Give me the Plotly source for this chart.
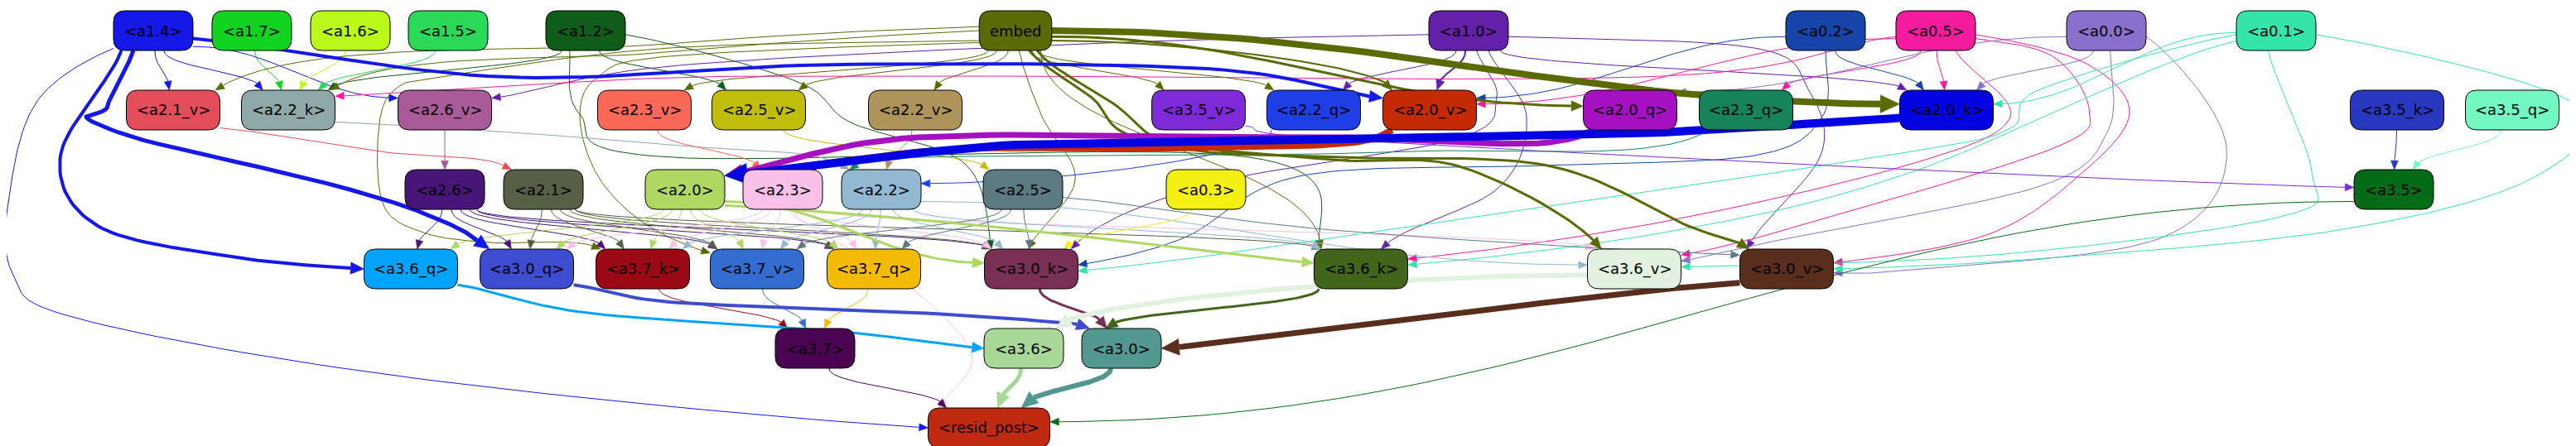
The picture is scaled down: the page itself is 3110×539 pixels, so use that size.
import numpy as np
import plotly.graph_objects as go

# ---- data: node labels and weighted edges (source, target, penwidth) ----
labels = ["<a1.4>", "<a1.7>", "<a1.6>", "<a1.5>", "<a1.2>", "embed", "<a1.0>", "<a0.2>", "<a0.5>",
          "<a0.0>", "<a0.1>",
          "<a2.1_v>", "<a2.2_k>", "<a2.6_v>", "<a2.3_v>", "<a2.5_v>", "<a2.2_v>", "<a3.5_v>",
          "<a2.2_q>", "<a2.0_v>", "<a2.0_q>", "<a2.3_q>", "<a2.0_k>", "<a3.5_k>", "<a3.5_q>",
          "<a2.6>", "<a2.1>", "<a2.0>", "<a2.3>", "<a2.2>", "<a2.5>", "<a0.3>", "<a3.5>",
          "<a3.6_q>", "<a3.0_q>", "<a3.7_k>", "<a3.7_v>", "<a3.7_q>", "<a3.0_k>", "<a3.6_k>",
          "<a3.6_v>", "<a3.0_v>",
          "<a3.7>", "<a3.6>", "<a3.0>", "<resid_post>"]

edge_src = []
edge_dst = []
edge_pw = []


def add(src, targets, pw=1):
    for t in targets:
        edge_src.append(src)
        edge_dst.append(t)
        edge_pw.append(pw)


add("<a1.4>", ["<a2.1_v>", "<a2.2_k>", "<a2.6_v>", "<resid_post>"])
add("<a1.4>", ["<a2.0_v>", "<a3.6_q>"], 4)
add("<a1.4>", ["<a3.0_q>"], 5)
add("<a1.7>", ["<a2.2_k>"])
add("<a1.6>", ["<a2.2_k>"])
add("<a1.5>", ["<a2.2_k>"])
add("<a1.2>", ["<a2.2_k>", "<a2.5_v>", "<a3.0_k>", "<a3.6_k>"])
add("embed", ["<a2.1_v>", "<a2.2_k>", "<a2.3_v>", "<a2.5_v>", "<a2.2_v>", "<a3.5_v>", "<a2.2_q>",
              "<a3.7_k>", "<a3.7_v>", "<a3.0_k>", "<a3.6_k>"])
add("embed", ["<a2.0_v>"], 2)
add("embed", ["<a2.0_q>", "<a3.6_v>", "<a3.0_v>"], 3)
add("embed", ["<a2.0_k>"], 8)
add("<a1.0>", ["<a2.2_q>", "<a2.6_v>", "<a2.0_k>", "<a3.0_v>", "<a3.6_k>", "<a3.0_k>"])
add("<a1.0>", ["<a2.0_v>"], 2)
add("<a0.2>", ["<a2.0_v>", "<a2.0_k>", "<a3.0_k>"])
add("<a0.5>", ["<a2.2_k>", "<a2.0_v>", "<a2.3_q>", "<a2.0_k>", "<a3.6_k>", "<a3.6_v>", "<a3.0_v>"])
add("<a0.0>", ["<a2.0_q>", "<a2.0_k>", "<a3.6_v>", "<a3.0_v>"])
add("<a0.1>", ["<a2.0_k>", "<a3.6_k>", "<a3.0_k>", "<a3.0_v>", "<a3.6_v>"])
add("<a2.1_v>", ["<a2.1>"])
add("<a2.2_k>", ["<a2.2>"])
add("<a2.6_v>", ["<a2.6>"])
add("<a2.3_v>", ["<a2.3>"])
add("<a2.5_v>", ["<a2.5>"])
add("<a2.2_v>", ["<a2.2>"])
add("<a3.5_v>", ["<a3.5>"])
add("<a2.2_q>", ["<a2.2>"])
add("<a2.0_v>", ["<a2.0>"], 8)
add("<a2.0_q>", ["<a2.0>"], 7)
add("<a2.0_k>", ["<a2.0>"], 10)
add("<a2.3_q>", ["<a2.2>"])
add("<a3.5_k>", ["<a3.5>"])
add("<a3.5_q>", ["<a3.5>"])
add("<a2.6>", ["<a3.6_q>", "<a3.0_q>", "<a3.7_k>", "<a3.7_v>", "<a3.7_q>", "<a3.0_k>"])
add("<a2.1>", ["<a3.0_q>", "<a3.7_k>", "<a3.7_v>", "<a3.7_q>", "<a3.0_k>", "<a3.6_k>"])
add("<a2.0>", ["<a3.6_q>", "<a3.0_q>", "<a3.7_k>", "<a3.7_v>", "<a3.7_q>"])
add("<a2.0>", ["<a3.0_k>", "<a3.6_k>"], 3)
add("<a2.3>", ["<a3.0_q>", "<a3.7_k>", "<a3.7_v>", "<a3.7_q>", "<a3.0_k>", "<a3.6_v>", "<resid_post>"])
add("<a2.2>", ["<a3.7_k>", "<a3.7_v>", "<a3.7_q>", "<a3.0_k>", "<a3.6_v>", "<a3.6_k>"])
add("<a2.5>", ["<a3.7_v>", "<a3.7_q>", "<a3.0_k>", "<a3.0_v>"])
add("<a0.3>", ["<a3.0_k>"])
add("<a3.5>", ["<resid_post>"])
add("<a3.6_q>", ["<a3.6>"], 3)
add("<a3.0_q>", ["<a3.0>"], 4)
add("<a3.7_k>", ["<a3.7>"])
add("<a3.7_v>", ["<a3.7>"])
add("<a3.7_q>", ["<a3.7>"])
add("<a3.0_k>", ["<a3.0>"], 3)
add("<a3.6_k>", ["<a3.0>"], 3)
add("<a3.6_v>", ["<a3.6>"], 6)
add("<a3.0_v>", ["<a3.0>"], 7)
add("<a3.7>", ["<resid_post>"])
add("<a3.6>", ["<resid_post>"], 5)
add("<a3.0>", ["<resid_post>"], 6)

# ---- layout (pixel positions of node centres) ----
R1, R2, R3, R4, R5, R6 = 29, 125, 221, 317, 413, 509
POS = {
    "<a1.4>": (177, R1), "<a1.7>": (296, R1), "<a1.6>": (415, R1), "<a1.5>": (533, R1),
    "<a1.2>": (699, R1), "embed": (1218, R1), "<a1.0>": (1765, R1), "<a0.2>": (2196, R1),
    "<a0.5>": (2329, R1), "<a0.0>": (2535, R1), "<a0.1>": (2740, R1),
    "<a2.1_v>": (201, R2), "<a2.2_k>": (340, R2), "<a2.6_v>": (529, R2), "<a2.3_v>": (770, R2),
    "<a2.5_v>": (908, R2), "<a2.2_v>": (1097, R2), "<a3.5_v>": (1439, R2), "<a2.2_q>": (1578, R2),
    "<a2.0_v>": (1718, R2), "<a2.0_q>": (1960, R2), "<a2.3_q>": (2100, R2), "<a2.0_k>": (2342, R2),
    "<a3.5_k>": (2886, R2), "<a3.5_q>": (3025, R2),
    "<a2.6>": (529, R3), "<a2.1>": (648, R3), "<a2.0>": (819, R3), "<a2.3>": (937, R3),
    "<a2.2>": (1056, R3), "<a2.5>": (1227, R3), "<a0.3>": (1448, R3), "<a3.5>": (2882, R3),
    "<a3.6_q>": (488, R4), "<a3.0_q>": (628, R4), "<a3.7_k>": (768, R4), "<a3.7_v>": (906, R4),
    "<a3.7_q>": (1047, R4), "<a3.0_k>": (1237, R4), "<a3.6_k>": (1635, R4), "<a3.6_v>": (1965, R4),
    "<a3.0_v>": (2149, R4),
    "<a3.7>": (976, R5), "<a3.6>": (1228, R5), "<a3.0>": (1346, R5),
    "<resid_post>": (1186, R6),
}

FILL = {
    "<a1.4>": "#1419e8", "<a1.7>": "#12d320", "<a1.6>": "#b9f81a", "<a1.5>": "#29d957",
    "<a1.2>": "#0f5d18", "embed": "#5a6b05", "<a1.0>": "#6420a8", "<a0.2>": "#1545a8",
    "<a0.5>": "#f51b9e", "<a0.0>": "#8870cc", "<a0.1>": "#35e4a8",
    "<a2.1_v>": "#e34d59", "<a2.2_k>": "#8fa8a8", "<a2.6_v>": "#a85b98", "<a2.3_v>": "#fa6858",
    "<a2.5_v>": "#c0be0a", "<a2.2_v>": "#ae935b", "<a3.5_v>": "#7e2ad8", "<a2.2_q>": "#1e3ee6",
    "<a2.0_v>": "#c42b05", "<a2.0_q>": "#a510c0", "<a2.3_q>": "#16835a", "<a2.0_k>": "#0404e2",
    "<a3.5_k>": "#2838c0", "<a3.5_q>": "#72f8c0",
    "<a2.6>": "#481678", "<a2.1>": "#556045", "<a2.0>": "#aed862", "<a2.3>": "#f9c0ea",
    "<a2.2>": "#92b8d2", "<a2.5>": "#5c7a82", "<a0.3>": "#f4f013", "<a3.5>": "#066b16",
    "<a3.6_q>": "#02a3fb", "<a3.0_q>": "#3e4ccf", "<a3.7_k>": "#9b0a14", "<a3.7_v>": "#336dd0",
    "<a3.7_q>": "#f3bb05", "<a3.0_k>": "#7a3055", "<a3.6_k>": "#41661a", "<a3.6_v>": "#e3f1e0",
    "<a3.0_v>": "#5a2e1d",
    "<a3.7>": "#4a0452", "<a3.6>": "#a8d898", "<a3.0>": "#539890", "<resid_post>": "#c02a10",
}

# hand routing for the long spline edges: source port, target port, waypoints
ROUTE = {
    ("<a1.4>", "<a2.0_v>"): dict(s=(1, 0.4), t=(-1, -0.6), via=[(600, 85), (1000, 70), (1450, 75)]),
    ("<a1.4>", "<a3.6_q>"): dict(s=(-0.8, 1), t=(-1, 0), via=[(65, 180), (110, 265), (270, 302)]),
    ("<a1.4>", "<a3.0_q>"): dict(s=(-0.5, 1), t=(-0.8, -1), via=[(122, 120), (135, 152)]),
    ("<a1.4>", "<resid_post>"): dict(s=(-1, 0.9), t=(-1, 0),
                                     via=[(40, 110), (6, 210), (6, 320), (90, 378), (500, 450)]),
    ("<a1.4>", "<a2.6_v>"): dict(s=(1, 0.8), t=(-1, -0.6), via=[]),
    ("<a1.2>", "<a3.0_k>"): dict(s=(1, 0.2), via=[(953, 90), (1019, 140), (1157, 190)]),
    ("<a1.2>", "<a3.6_k>"): dict(s=(-0.4, 1), via=[(692, 130), (800, 182), (1500, 182)]),
    ("<a1.0>", "<a2.6_v>"): dict(s=(-1, 0.2), t=(1, -0.6), via=[(1300, 45), (800, 72)]),
    ("<a1.0>", "<a3.0_v>"): dict(s=(1, 0.3), via=[(2110, 50), (2175, 100), (2190, 180)]),
    ("<a1.0>", "<a3.6_k>"): dict(s=(0.5, 1), via=[(1835, 133), (1800, 220)]),
    ("<a1.0>", "<a3.0_k>"): dict(s=(0.2, 1), via=[(1799, 110), (1750, 160), (1450, 215)]),
    ("<a0.2>", "<a3.0_k>"): dict(s=(0, 1), t=(1, -0.2),
                                 via=[(2192, 133), (2110, 180), (1850, 192), (1560, 205), (1420, 280)]),
    ("<a0.2>", "<a2.0_v>"): dict(s=(-1, 0.3), t=(1, -0.6)),
    ("<a0.5>", "<a2.2_k>"): dict(s=(-1, 0.3), t=(1, -0.7), via=[(2000, 84), (1200, 84), (800, 86)]),
    ("<a0.5>", "<a2.0_v>"): dict(s=(-1, 0.4), t=(1, -0.3)),
    ("<a0.5>", "<a3.0_v>"): dict(s=(1, 0.2), t=(1, -0.3),
                                 via=[(2507, 67), (2563, 127), (2507, 200), (2393, 275)]),
    ("<a0.5>", "<a3.6_v>"): dict(s=(1, 0.4), t=(1, -0.7),
                                 via=[(2470, 60), (2514, 123), (2481, 167), (2250, 240)]),
    ("<a0.5>", "<a3.6_k>"): dict(s=(0.5, 1), t=(1, -0.5), via=[(2419, 133), (2300, 190), (2000, 260)]),
    ("<a0.0>", "<a3.0_v>"): dict(s=(1, 0.3), t=(1, 0.2), via=[(2680, 170), (2600, 280), (2300, 318)]),
    ("<a0.0>", "<a3.6_v>"): dict(s=(0.1, 1), t=(1, -0.4), via=[(2537, 150), (2455, 217), (2150, 280)]),
    ("<a0.0>", "<a2.0_q>"): dict(s=(-1, 0.3), t=(1, -0.9)),
    ("<a0.1>", "<a3.0_v>"): dict(s=(1, 0.2), t=(1, 0),
                                 via=[(3100, 117), (3050, 207), (2816, 270), (2450, 305)]),
    ("<a0.1>", "<a3.6_k>"): dict(s=(-1, 0.5), t=(1, -0.2), via=[(2300, 200), (2018, 270)]),
    ("<a0.1>", "<a3.0_k>"): dict(s=(-1, 0.2), t=(1, 0.1),
                                 via=[(2455, 100), (2419, 147), (2300, 175), (1800, 250)]),
    ("<a0.1>", "<a3.6_v>"): dict(s=(-0.2, 1), t=(1, -0.1), via=[(2783, 200), (2749, 253), (2400, 300)]),
    ("<a0.1>", "<a2.0_k>"): dict(s=(-1, 0.1), t=(1, -0.3)),
    ("<a2.0_k>", "<a2.0>"): dict(s=(-1, 0.4), t=(1, -0.7), via=[(2000, 152), (1600, 160), (1200, 168)]),
    ("<a2.0_q>", "<a2.0>"): dict(s=(-0.8, 1), t=(1, -0.7), via=[(1600, 158), (1100, 158)]),
    ("<a2.0_v>", "<a2.0>"): dict(s=(-0.8, 1), t=(1, -0.7), via=[(1500, 170), (1150, 172)]),
    ("<a2.3_q>", "<a2.2>"): dict(s=(-0.8, 1), t=(-0.8, -1), via=[(1700, 175), (1300, 180), (1080, 183)]),
    ("<a2.2_k>", "<a2.2>"): dict(s=(1, 0.6), t=(-0.8, -1), via=[(800, 167)]),
    ("<a2.2_q>", "<a2.2>"): dict(s=(-0.9, 1), t=(1, -0.3)),
    ("<a2.1_v>", "<a2.1>"): dict(s=(1, 0.9), t=(-0.8, -1), via=[(450, 175)]),
    ("<a3.5_v>", "<a3.5>"): dict(s=(1, 0.8), t=(-1, -0.1), via=[(1600, 160), (2300, 197)]),
    ("<a2.3>", "<resid_post>"): dict(s=(0.2, 1), via=[(1080, 330), (1165, 420)]),
    ("<a2.0>", "<a3.0_k>"): dict(s=(1, 0.6), t=(-1, -0.3)),
    ("<a2.0>", "<a3.6_k>"): dict(s=(1, 0.8), t=(-1, -0.3), via=[(1150, 262), (1450, 295)]),
    ("<a2.2>", "<a3.6_v>"): dict(s=(1, 0.6), t=(-1, -0.2)),
    ("<a2.5>", "<a3.0_v>"): dict(s=(1, 0.4), t=(-1, -0.7), via=[(1600, 270)]),
    ("<a3.5>", "<resid_post>"): dict(s=(-1, 0.6), t=(1, -0.3)),
    ("<a3.6_q>", "<a3.6>"): dict(s=(1, 0.8), t=(-1, 0), via=[(700, 370), (1000, 392)]),
    ("<a3.0_q>", "<a3.0>"): dict(s=(1, 0.8), t=(-0.8, -1), via=[(800, 357), (1065, 368), (1250, 380)]),
    ("<a3.6_v>", "<a3.6>"): dict(s=(-1, 0.3), t=(0.8, -1)),
    ("<a3.0_v>", "<a3.0>"): dict(s=(-1, 0.7), t=(1, 0), via=[(1906, 352), (1600, 390)]),
    ("<a3.6_k>", "<a3.0>"): dict(s=(-0.9, 1), t=(-0.4, -1)),
    ("embed", "<a2.0_k>"): dict(s=(1, 0), t=(-1, -0.3)),
    ("embed", "<a2.0_q>"): dict(s=(1, 0.3), t=(-1, -0.2)),
    ("embed", "<a2.0_v>"): dict(s=(1, 0.5), t=(-0.8, -1)),
    ("embed", "<a3.6_v>"): dict(s=(0.4, 1), t=(-0.7, -1),
                                via=[(1310, 110), (1370, 160), (1600, 185), (1760, 195)]),
    ("embed", "<a3.0_v>"): dict(s=(0.6, 1), t=(-0.8, -1),
                                via=[(1336, 117), (1415, 170), (1600, 182), (1860, 192), (2030, 265)]),
    ("embed", "<a3.0_k>"): dict(s=(0.1, 1), via=[(1250, 133), (1290, 210)]),
    ("embed", "<a3.7_k>"): dict(s=(-1, 0.5), t=(-0.9, -1),
                                via=[(800, 50), (536, 83), (469, 100), (449, 150), (455, 240),
                                     (503, 273), (580, 285)]),
    ("embed", "<a3.7_v>"): dict(s=(-1, 0.6), t=(-1, -0.8),
                                via=[(800, 60), (714, 85), (692, 133), (714, 205), (770, 262)]),
    ("embed", "<a2.1_v>"): dict(s=(-1, -0.2), t=(0.9, -1), via=[(800, 45)]),
    ("embed", "<a2.2_k>"): dict(s=(-1, 0), t=(0.9, -1), via=[(800, 55)]),
}

NODE_H = 48


def node_w(name):
    return 8.5 * len(name) + 45


def port(name, f):
    cx, cy = POS[name]
    fx, fy = f
    p = np.array([cx + fx * node_w(name) / 2, cy + fy * NODE_H / 2])
    if abs(fx) >= 1 and abs(fy) < 1:
        n = np.array([np.sign(fx), 0.0])
    else:
        n = np.array([0.0, np.sign(fy)])
    return p, n


def catmull(pts):
    out = []
    for i in range(1, len(pts) - 2):
        p0, p1, p2, p3 = pts[i - 1:i + 3]
        for t in np.linspace(0, 1, 20, endpoint=False):
            t2, t3 = t * t, t * t * t
            out.append(0.5 * (2 * p1 + (-p0 + p2) * t + (2 * p0 - 5 * p1 + 4 * p2 - p3) * t2
                              + (-p0 + 3 * p1 - 3 * p2 + p3) * t3))
    out.append(pts[-2])
    return np.array(out)


def edge_curve(src, dst):
    r = ROUTE.get((src, dst), {})
    sx, sy = POS[src]
    tx, ty = POS[dst]
    fs = r.get("s", (float(np.clip((tx - sx) / 600, -0.8, 0.8)), 1))
    ft = r.get("t", (float(np.clip((sx - tx) / 300, -0.85, 0.85)), -1))
    p0, n0 = port(src, fs)
    p3, n3 = port(dst, ft)
    via = [np.array(v, float) for v in r.get("via", [])]
    if via:
        pts = [p0] + via + [p3]
        s0 = 0.6 * np.linalg.norm(pts[1] - p0)
        s3 = 0.6 * np.linalg.norm(p3 - pts[-2])
        pts = [p0 - n0 * s0] + pts + [p3 - n3 * s3]
        return catmull(pts)
    d = p3 - p0
    k0 = max(0.45 * abs(d[1]), 15) if n0[1] != 0 else max(0.4 * abs(d[0]), 20)
    k3 = max(0.45 * abs(d[1]), 15) if n3[1] != 0 else max(0.4 * abs(d[0]), 20)
    p1 = p0 + n0 * k0
    p2 = p3 + n3 * k3
    t = np.linspace(0, 1, 60)[:, None]
    return ((1 - t) ** 3) * p0 + 3 * ((1 - t) ** 2) * t * p1 + 3 * (1 - t) * t * t * p2 + (t ** 3) * p3


fig = go.Figure()

order = np.argsort(edge_pw, kind="stable")
for i in order:
    src, dst, pw = edge_src[i], edge_dst[i], edge_pw[i]
    col = FILL[src]
    pts = edge_curve(src, dst)
    tip = pts[-1]
    L = 9 + 1.8 * pw
    hw = 3.6 + 0.9 * pw
    dist = np.linalg.norm(pts - tip, axis=1)
    idx = np.where(dist >= L)[0]
    j = idx[-1] if len(idx) else 0
    dvec = tip - pts[j]
    dvec = dvec / (np.linalg.norm(dvec) + 1e-9)
    base = tip - dvec * L
    line = np.vstack([pts[:j + 1], base])
    perp = np.array([-dvec[1], dvec[0]])
    tri = np.array([tip, base + perp * hw, base - perp * hw, tip])
    fig.add_trace(go.Scatter(x=line[:, 0], y=line[:, 1], mode="lines",
                             line=dict(color=col, width=pw), hoverinfo="skip", showlegend=False))
    fig.add_trace(go.Scatter(x=tri[:, 0], y=tri[:, 1], mode="lines", fill="toself",
                             fillcolor=col, line=dict(color=col, width=0.5),
                             hoverinfo="skip", showlegend=False))

shapes = []
annotations = []
rad = 14
for name in labels:
    cx, cy = POS[name]
    w = node_w(name)
    x0, x1 = cx - w / 2, cx + w / 2
    y0, y1 = cy - NODE_H / 2, cy + NODE_H / 2
    path = (f"M {x0 + rad},{y0} L {x1 - rad},{y0} Q {x1},{y0} {x1},{y0 + rad} "
            f"L {x1},{y1 - rad} Q {x1},{y1} {x1 - rad},{y1} L {x0 + rad},{y1} "
            f"Q {x0},{y1} {x0},{y1 - rad} L {x0},{y0 + rad} Q {x0},{y0} {x0 + rad},{y0} Z")
    shapes.append(dict(type="path", path=path, xref="x", yref="y", fillcolor=FILL[name],
                       line=dict(color="black", width=1), layer="above"))
    annotations.append(dict(x=cx, y=cy, xref="x", yref="y", showarrow=False,
                            text=name.replace("<", "&lt;").replace(">", "&gt;"),
                            font=dict(family="DejaVu Sans", size=18, color="black")))

fig.update_layout(
    width=3110, height=539,
    margin=dict(l=0, r=0, t=0, b=0),
    paper_bgcolor="white", plot_bgcolor="white",
    shapes=shapes, annotations=annotations,
    xaxis=dict(range=[0, 3110], visible=False, fixedrange=True),
    yaxis=dict(range=[539, 0], visible=False, fixedrange=True),
    showlegend=False,
)

fig.write_html("out.html")
